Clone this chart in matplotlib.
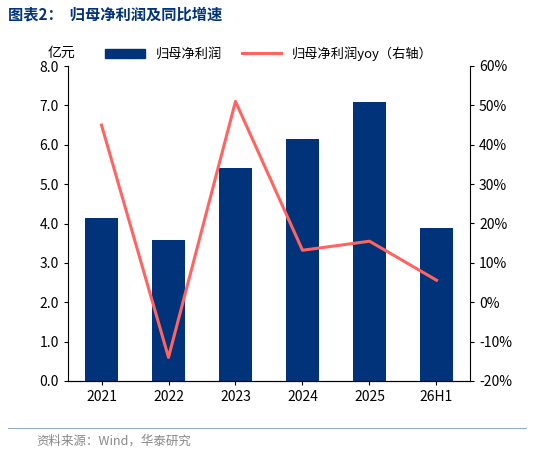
import matplotlib.pyplot as plt
from matplotlib.lines import Line2D

plt.rcParams['font.family'] = ['Noto Sans CJK SC', 'DejaVu Sans']

years = ["2021", "2022", "2023", "2024", "2025", "26H1"]
profit = [4.15, 3.58, 5.42, 6.14, 7.08, 3.88]
yoy = [45.0, -14.0, 51.0, 13.2, 15.5, 5.6]

bar_color = "#00337A"
line_color = "#FF6461"

fig = plt.figure(figsize=(5.34, 4.54), dpi=100)
ax = fig.add_axes([68 / 534, 1 - 381 / 454, (470 - 68) / 534, (381 - 66) / 454])
x = range(len(years))
ax.bar(x, profit, width=0.5, color=bar_color, label="归母净利润")
ax.set_ylim(0, 8)
ax.set_yticks([i * 1.0 for i in range(9)])
ax.set_yticklabels([f"{i:.1f}" for i in range(9)])
ax.set_xticks(list(x))
ax.set_xticklabels(years)
ax.set_xlim(-0.5, len(years) - 0.5)
for s in ["top", "right"]:
    ax.spines[s].set_visible(False)
ax.tick_params(labelsize=10, length=3)
ax.text(-0.05, 1.03, "亿元", transform=ax.transAxes, fontsize=10)

ax2 = ax.twinx()
ax2.plot(x, yoy, color=line_color, lw=2.2)
ax2.set_ylim(-20, 60)
ax2.set_yticks(range(-20, 61, 10))
ax2.set_yticklabels([f"{v}%" for v in range(-20, 61, 10)])
for s in ["top", "left"]:
    ax2.spines[s].set_visible(False)
ax2.tick_params(labelsize=10, length=3)

handles = [plt.Rectangle((0, 0), 1, 1, color=bar_color),
           Line2D([], [], color=line_color, lw=2.2)]
ax.legend(handles, ["归母净利润", "归母净利润yoy（右轴）"], loc="upper center",
          bbox_to_anchor=(0.5, 1.1), ncol=2, frameon=False, fontsize=9.5,
          handlelength=3, columnspacing=1.5)

fig.text(8 / 534, 1 - 14 / 454, "图表2：  归母净利润及同比增速", fontsize=11,
         fontweight="bold", color="#00337A", va="center")
fig.add_artist(Line2D([8 / 534, 526 / 534], [1 - 428 / 454, 1 - 428 / 454], color="#7A9CC6", lw=0.6))
fig.text(36 / 534, 1 - 441 / 454, "资料来源：Wind，华泰研究", fontsize=9, color="#888888", va="center")

fig.savefig("out.png", dpi=100)
